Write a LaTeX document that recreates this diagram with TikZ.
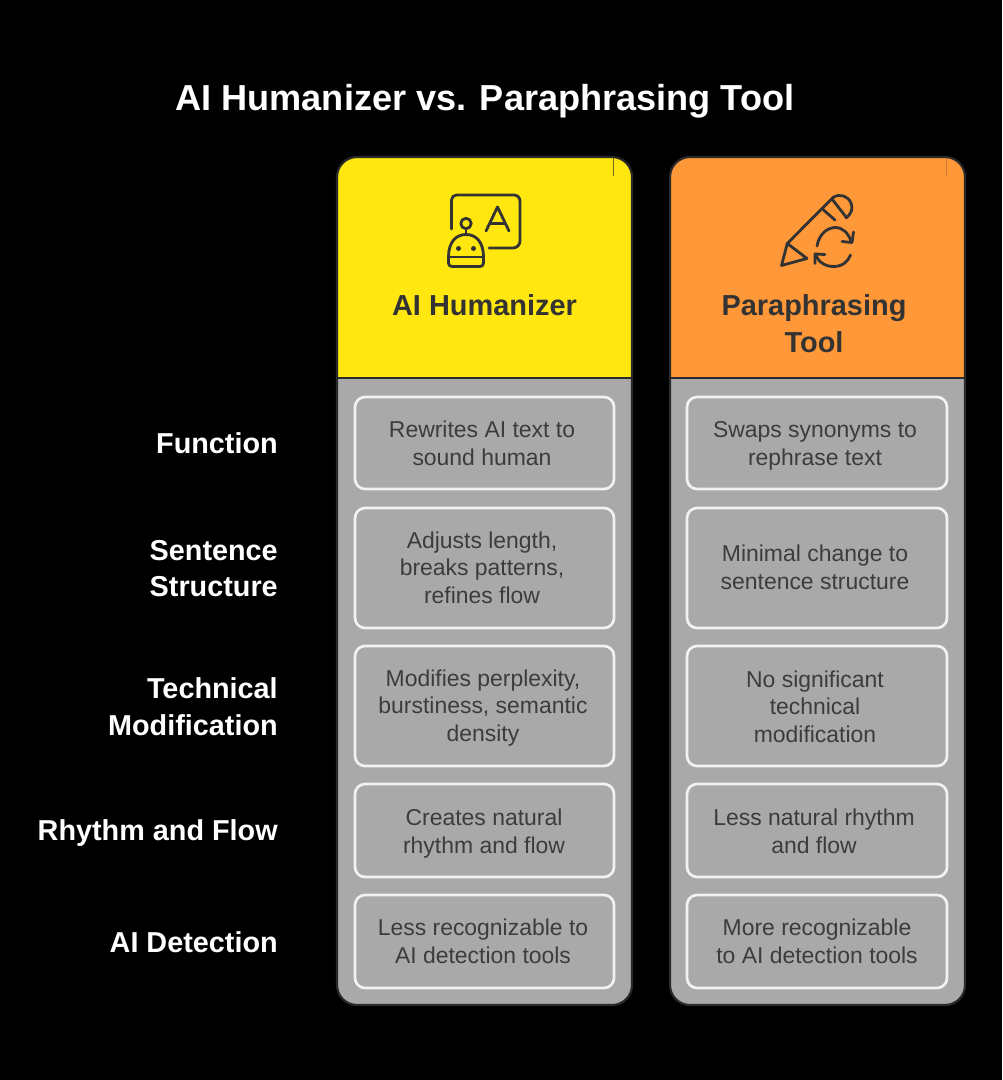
\documentclass[tikz,border=0pt]{standalone}
\usepackage{fontspec}
\setmainfont{Liberation Sans}
\definecolor{ink}{HTML}{333333}
\definecolor{bodyink}{HTML}{3C3C3C}
\definecolor{panel}{HTML}{A9A9A9}
\definecolor{edge}{HTML}{2A2A2A}
\definecolor{cardedge}{HTML}{F2F2F2}
\definecolor{yellowhead}{HTML}{FFE70F}
\definecolor{orangehead}{HTML}{FF9838}
\tikzset{
  x=0.75pt,y=-0.75pt,
  titletext/.style={text=white,font=\fontsize{27.1}{33}\selectfont\bfseries,inner sep=0pt},
  rowlabel/.style={text=white,font=\fontsize{21.6}{27.6}\selectfont\bfseries,align=right,anchor=east,inner sep=0pt},
  headtext/.style={text=ink,font=\fontsize{21.7}{27.4}\selectfont\bfseries,align=center,inner sep=0pt},
  celltext/.style={text=bodyink,font=\fontsize{17.2}{20.7}\selectfont,align=center,inner sep=0pt},
  panelbox/.style={draw=edge,line width=1.6pt,rounded corners=15pt},
  cardbox/.style={draw=cardedge,line width=2pt,rounded corners=7.5pt},
  iconline/.style={draw=ink,line width=2.1pt,line cap=round,line join=round},
}
\newcommand{\column}[3]{%
  \fill[panel,rounded corners=15pt] (#1,157) rectangle (#2,1005);
  \begin{scope}
    \clip[rounded corners=15pt] (#1,157) rectangle (#2,1005);
    \fill[#3] (#1,157) rectangle (#2,378);
    \draw[edge,line width=1.6pt] (#1,378) -- (#2,378);
  \end{scope}
  \draw[panelbox] (#1,157) rectangle (#2,1005);
}
\begin{document}
\begin{tikzpicture}
\useasboundingbox (0,0) rectangle (1002,1080);
\fill[black] (0,0) rectangle (1002,1080);

\node[titletext] (title) at (485,101) {AI Humanizer vs. Paraphrasing Tool};

\column{337}{632}{yellowhead}
\column{670}{965}{orangehead}

\draw[edge!70!yellowhead,line width=0.5pt] (613.5,158) -- (613.5,176);
\draw[edge!25!orangehead,line width=0.5pt] (946,158) -- (946,176);

% AI icon
\draw[iconline] (451.5,229) -- (451.5,200) arc[start angle=180,end angle=270,radius=5] -- (514,195) arc[start angle=270,end angle=360,radius=6] -- (520,241) arc[start angle=0,end angle=90,radius=7] -- (489,248);
\draw[iconline] (486,231) -- (497.5,207) -- (509,231);
\draw[iconline] (490,223.5) -- (505,223.5);
\draw[iconline] (466,223.5) circle[radius=5.2];
\draw[iconline] (466,229) -- (466,234);
\draw[iconline] (448.5,257) .. controls (448.5,242) and (456,234.5) .. (466,234.5) .. controls (476,234.5) and (483.5,242) .. (483.5,257) -- (483.5,263) .. controls (483.5,265.5) and (482,266.5) .. (480,266.5) -- (452,266.5) .. controls (450,266.5) and (448.5,265.5) .. (448.5,263) -- cycle;
\draw[iconline] (448.5,257) -- (483.5,257);
\fill[ink] (458.5,248.5) circle[radius=2.5];
\fill[ink] (473.5,248.5) circle[radius=2.5];

% Pencil and refresh icon
\draw[iconline] (787.3,243.5) -- (781.5,265.5) -- (807,258.5) -- cycle;
\draw[iconline] (787.3,243.5) -- (833,197.5) .. controls (840,193) and (848,196) .. (851,203) .. controls (853.5,209) and (851,214) .. (846,218);
\draw[iconline] (823.5,210) -- (835,220);
\draw[iconline] (832,199) -- (846,217);
\draw[iconline] (817,246) .. controls (819,235) and (826,228) .. (835,227.5) .. controls (843,227.5) and (848,233) .. (851,241);
\draw[iconline] (842,241.5) -- (852,242.5) -- (853.5,232);
\draw[iconline] (850.5,255) .. controls (848,262) and (842,266.5) .. (833.5,266.5) .. controls (825,266.5) and (818,262) .. (815.5,254);
\draw[iconline] (825,254.5) -- (815,254) -- (815,263.5);

% Header texts
\node[headtext] (headone) at (484.5,305) {AI Humanizer};
\node[headtext] (headtwo) at (814,323.5) {Paraphrasing\\Tool};

% Row labels
\node[rowlabel] (rowa) at (278,443) {Function};
\node[rowlabel] (rowb) at (278,568.5) {Sentence\\Structure};
\node[rowlabel] (rowc) at (278,706.5) {Technical\\Modification};
\node[rowlabel] (rowd) at (278,833.5) {Rhythm and Flow};
\node[rowlabel] (rowe) at (278,942) {AI Detection};

% Cards, first column
\draw[cardbox] (355,397) rectangle (614,489);
\draw[cardbox] (355,508) rectangle (614,628);
\draw[cardbox] (355,646) rectangle (614,766);
\draw[cardbox] (355,784) rectangle (614,877);
\draw[cardbox] (355,895) rectangle (614,988);
% Cards, second column
\draw[cardbox] (687,397) rectangle (947,489);
\draw[cardbox] (687,508) rectangle (947,628);
\draw[cardbox] (687,646) rectangle (947,766);
\draw[cardbox] (687,784) rectangle (947,877);
\draw[cardbox] (687,895) rectangle (947,988);

\node[celltext] (a1) at (482,443.5) {Rewrites AI text to\\sound human};
\node[celltext] (b1) at (482,567.5) {Adjusts length,\\breaks patterns,\\refines flow};
\node[celltext] (c1) at (483,708) {Modifies perplexity,\\burstiness, semantic\\density};
\node[celltext] (d1) at (484,833.5) {Creates natural\\rhythm and flow};
\node[celltext] (e1) at (483,941) {Less recognizable to\\AI detection tools};

\node[celltext] (a2) at (815,446) {Swaps synonyms to\\rephrase text};
\node[celltext] (b2) at (815,567.5) {Minimal change to\\sentence structure};
\node[celltext] (c2) at (815,706.5) {No significant\\technical\\modification};
\node[celltext] (d2) at (814,831.5) {Less natural rhythm\\and flow};
\node[celltext] (e2) at (817,941) {More recognizable\\to AI detection tools};
\end{tikzpicture}
\end{document}
